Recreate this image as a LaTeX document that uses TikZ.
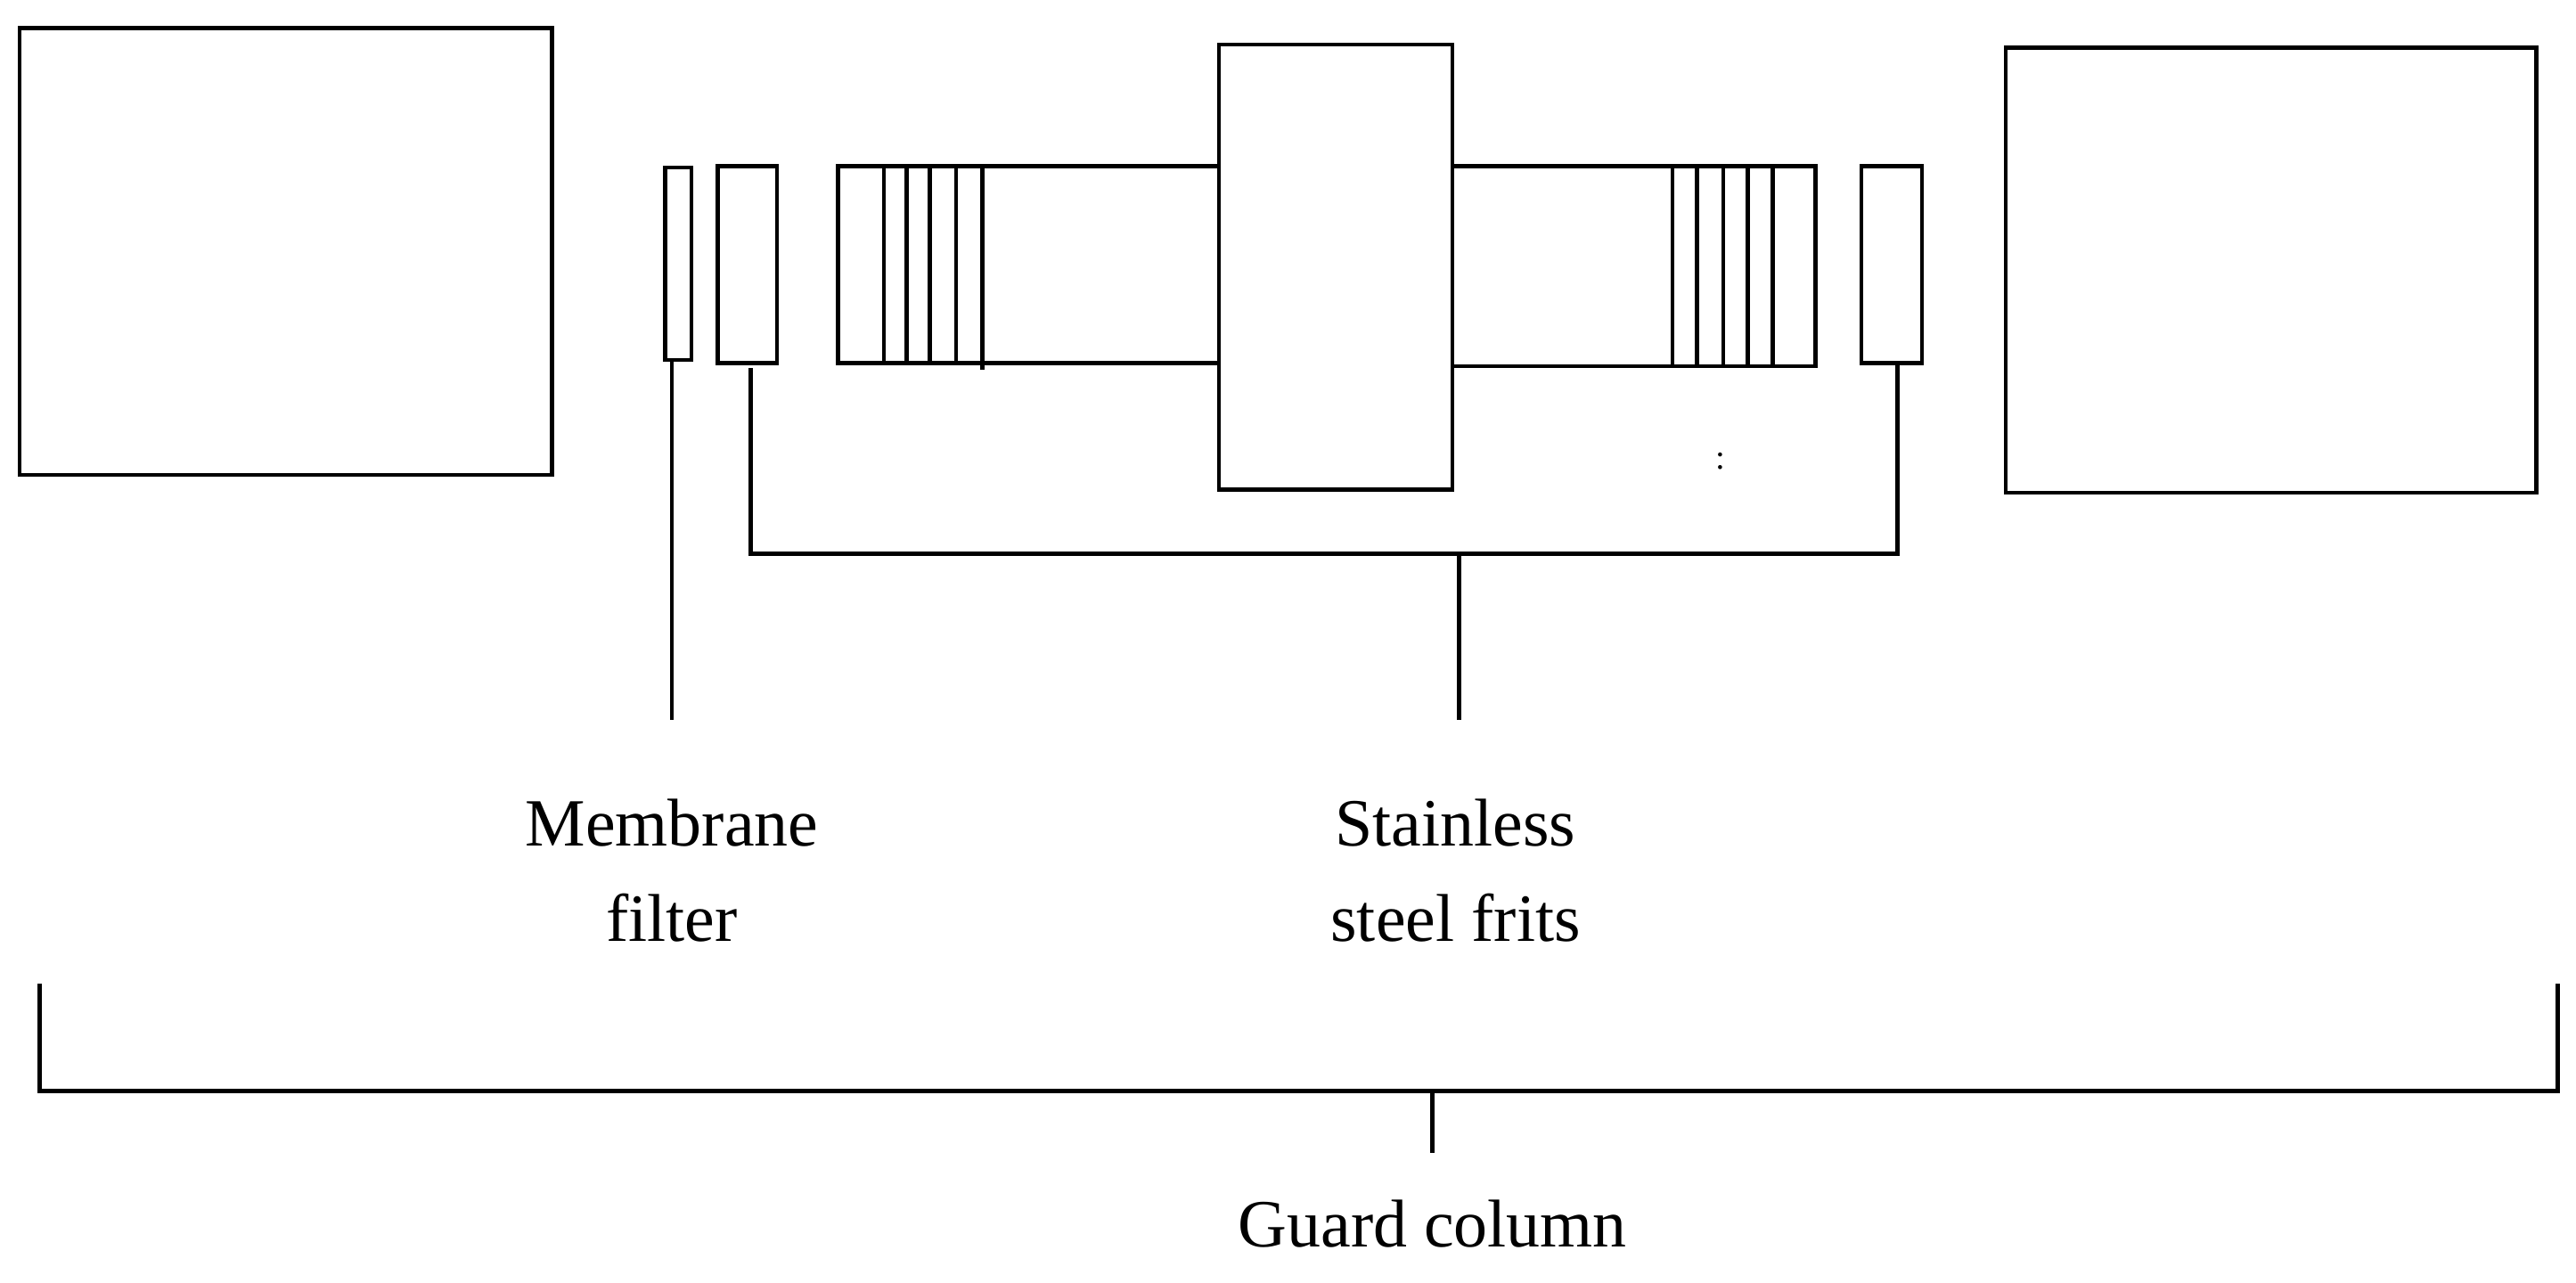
\documentclass[tikz,border=0pt]{standalone}
\usepackage{fontspec}
\setmainfont{Liberation Serif}
\begin{document}
\begin{tikzpicture}[x=0.01cm,y=-0.01cm,line width=0.7pt,
  lbl/.style={font=\fontsize{11.7}{16.5}\selectfont,align=center,inner sep=0pt}]
\useasboundingbox (0,0) rectangle (1568,781);
\fill[white] (0,0) rectangle (1568,781);
% boxes
\draw (12,17) rectangle (336,289);
\draw (1221,29) rectangle (1544,300);
\draw (405,102) rectangle (421,219);
\draw (437,101) rectangle (473,221);
\draw (1133,101) rectangle (1170,221);
% tubes
\draw (742,101) -- (510,101) -- (510,221) -- (742,221);
\foreach \x in {538,552,566,582} \draw (\x,101) -- (\x,221);
\draw (598,101) -- (598,225);
\draw (884,101) -- (1105,101) -- (1105,223) -- (884,223);
\foreach \x in {1018,1033,1049,1064,1079} \draw (\x,101) -- (\x,223);
\draw (742,27) rectangle (884,298);
\node[inner sep=0pt,font=\fontsize{6}{6}\selectfont] at (1047,281) {:};
% membrane leader
\draw (409,219) -- (409,438);
% frits bracket
\draw (457,224) -- (457,337) -- (1155,337) -- (1155,221);
\draw (888,337) -- (888,438);
\node[lbl] (mf) at (409,530) {Membrane\\filter};
\node[lbl] (sf) at (886,530) {Stainless\\steel frits};
% guard bracket
\draw (24,599) -- (24,664) -- (1557,664) -- (1557,599);
\draw (872,664) -- (872,702);
\node[lbl] (gc) at (872,745) {Guard column};
\end{tikzpicture}
\end{document}
